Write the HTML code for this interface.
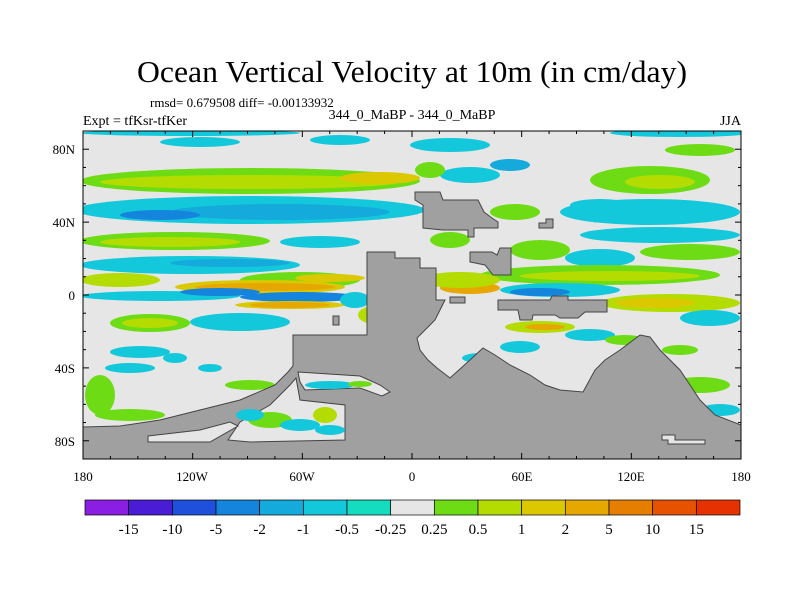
<!DOCTYPE html>
<html><head><meta charset="utf-8"><style>
body{margin:0;background:#fff;}
svg{display:block;font-family:"Liberation Serif",serif;}
</style></head><body>
<svg width="800" height="600" viewBox="0 0 800 600">
<defs><clipPath id="mapclip"><rect x="83" y="131" width="658" height="328"/></clipPath></defs>
<text x="412" y="82" text-anchor="middle" font-size="31" textLength="550" lengthAdjust="spacingAndGlyphs">Ocean Vertical Velocity at 10m (in cm/day)</text>
<text x="150" y="107" font-size="13">rmsd= 0.679508 diff= -0.00133932</text>
<text x="412" y="119" text-anchor="middle" font-size="14">344_0_MaBP - 344_0_MaBP</text>
<text x="83" y="125" font-size="14">Expt = tfKsr-tfKer</text>
<text x="741" y="125" text-anchor="end" font-size="14">JJA</text>

<g clip-path="url(#mapclip)">
<rect x="83" y="131" width="658" height="328" fill="#e6e6e6"/>
<g id="blobs"></g>
<g fill="#a0a0a0" stroke="#444" stroke-width="1">
<polygon points="83,459 83,427 120,426 160,420 200,410 240,400 275,385 288,372 293,366 293,335 367,335 367,252 395,252 395,258 420,258 420,268 436,268 436,300 445,300 440,310 435,320 425,330 417,338 420,350 428,360 437,368 450,378 470,360 483,348 495,355 510,365 530,375 545,385 560,390 583,392 595,370 605,360 620,350 640,335 650,337 660,350 680,370 690,385 700,400 715,415 741,425 741,459"/>
<polygon points="415,192 440,192 443,200 478,200 484,212 492,218 498,222 498,228 474,228 474,237 468,237 468,230 443,230 423,228 423,205 415,200"/>
<polygon points="539,223 546,223 546,219 553,219 553,228 539,228"/>
<polygon points="470,252 492,252 497,255 500,248 511,248 511,275 493,275 485,265 470,262"/>
<polygon points="498,300 550,300 552,296 568,296 568,300 607,300 607,312 585,312 578,318 560,318 555,315 533,315 532,320 520,320 518,310 498,310"/>
<polygon points="450,297 465,297 465,303 450,303"/>
<polygon points="333,316 339,316 339,325 333,325"/>
</g>
<g fill="#e6e6e6" stroke="#444" stroke-width="1">
<polygon points="298,372 360,376 380,385 390,392 382,396 360,388 305,390 300,382"/>
<polygon points="240,422 270,405 290,385 296,378 300,400 345,405 345,440 250,442 228,440"/>
<polygon points="148,436 200,430 230,422 238,426 210,442 148,442"/>
<polygon points="662,435 675,435 675,440 705,440 705,444 668,444 668,440 662,440"/>
</g>
<g id="seablobs"></g>
</g>
<rect x="83" y="131" width="658" height="328" fill="none" stroke="#000" stroke-width="1"/>
<g id="ticks" stroke="#000" stroke-width="1"></g>
<g font-size="13" text-anchor="end">
<text x="75" y="154">80N</text>
<text x="75" y="227">40N</text>
<text x="75" y="300">0</text>
<text x="75" y="373">40S</text>
<text x="75" y="446">80S</text>
</g>
<g font-size="13" text-anchor="middle">
<text x="83" y="481">180</text>
<text x="192" y="481">120W</text>
<text x="302" y="481">60W</text>
<text x="412" y="481">0</text>
<text x="522" y="481">60E</text>
<text x="631" y="481">120E</text>
<text x="741" y="481">180</text>
</g>
<g id="colorbar"></g>
</svg>
<script>
const levelLabels=['-15','-10','-5','-2','-1','-0.5','-0.25','0.25','0.5','1','2','5','10','15'];
const levelColors=['#8a1ee3','#4a1cd6','#1e50dc','#1484dc','#14aadc','#14c8dc','#14dcbe','#e6e6e6','#6edc14','#b4dc00','#dcc800','#e6a800','#e67e00','#e65200','#e63200'];
const NS='http://www.w3.org/2000/svg';
const C={cy:'#14c8dc',cb:'#14aadc',bl:'#1484dc',gr:'#6edc14',yg:'#b4dc00',ye:'#dcc800',or:'#e6a800',tq:'#14dcbe'};
// [cx,cy,rx,ry,color]
const blobs=[
[190,133,110,3,'cy'],[680,133,70,4,'cy'],[200,142,40,5,'cy'],[340,140,30,5,'cy'],
[250,181,170,13,'gr'],[250,182,150,7,'yg'],[380,178,40,6,'ye'],
[250,210,175,14,'cy'],[280,212,110,8,'cb'],[160,215,40,5,'bl'],
[175,241,95,9,'gr'],[170,242,70,5,'yg'],[320,242,40,6,'cy'],
[190,265,110,9,'cy'],[230,263,60,4,'cb'],[120,280,40,7,'yg'],[300,280,60,8,'gr'],[330,278,35,4,'ye'],
[160,296,80,5,'cy'],[260,287,85,7,'ye'],[265,287,70,4,'or'],[300,297,60,5,'bl'],[220,292,40,4,'bl'],
[290,305,55,4,'ye'],[290,305,40,3,'or'],[240,322,50,9,'cy'],[150,323,40,9,'gr'],[150,323,28,5,'yg'],
[140,352,30,6,'cy'],[130,368,25,5,'cy'],[175,358,12,5,'cy'],[210,368,12,4,'cy'],
[100,395,15,20,'gr'],[250,385,25,5,'gr'],[130,415,35,6,'gr'],
[450,145,40,7,'cy'],[470,175,30,8,'cy'],[510,165,20,6,'cb'],[430,170,15,8,'gr'],
[650,180,60,14,'gr'],[660,182,35,7,'yg'],[700,150,35,6,'gr'],
[650,212,90,13,'cy'],[515,212,25,8,'gr'],[600,205,30,6,'cy'],
[660,235,80,8,'cy'],[690,252,50,8,'gr'],[600,258,35,9,'cy'],[540,250,30,10,'gr'],
[600,275,120,10,'gr'],[610,276,90,5,'yg'],[470,288,30,6,'or'],[460,280,40,8,'yg'],
[560,290,60,7,'cy'],[540,292,30,4,'bl'],[670,303,70,9,'yg'],[655,303,40,5,'ye'],
[710,318,30,8,'cy'],[540,327,35,6,'yg'],[545,327,20,3,'or'],[590,335,25,6,'cy'],
[520,347,20,6,'cy'],[480,358,18,5,'cy'],[625,340,20,5,'gr'],[680,350,18,5,'gr'],
[700,385,30,8,'gr'],[720,410,20,6,'cy'],[450,240,20,8,'gr'],[380,315,22,10,'yg'],[355,300,15,8,'cy']
];
const seablobs=[
[330,385,25,4,'cy'],[360,384,12,3,'gr'],[270,420,22,8,'gr'],[300,425,20,6,'cy'],[325,415,12,8,'yg'],[250,415,14,6,'cy'],[330,430,15,5,'cy']
];
function drawBlobs(id,arr){
 const g=document.getElementById(id);
 arr.forEach(b=>{const e=document.createElementNS(NS,'ellipse');
 e.setAttribute('cx',b[0]);e.setAttribute('cy',b[1]);e.setAttribute('rx',b[2]);e.setAttribute('ry',b[3]);e.setAttribute('fill',C[b[4]]);
 
 
 g.appendChild(e);});
}
drawBlobs('blobs',blobs);drawBlobs('seablobs',seablobs);
const X0=83,X1=741,Y0=131,Y1=459;
const lonX=l=>X0+(l+180)/360*(X1-X0);
const latY=l=>Y0+(90-l)/180*(Y1-Y0);
const tg=document.getElementById('ticks');
function ln(x1,y1,x2,y2){const l=document.createElementNS(NS,'line');l.setAttribute('x1',x1);l.setAttribute('y1',y1);l.setAttribute('x2',x2);l.setAttribute('y2',y2);


tg.appendChild(l);}
for(let l=-180;l<=180;l+=15){const x=lonX(l),m=l%60===0?6:3;ln(x,Y1,x,Y1-m);ln(x,Y0,x,Y0+m);}
for(let l=-90;l<=90;l+=10){const y=latY(l),m=l%40===0?6:3;ln(X0,y,X0+m,y);ln(X1,y,X1-m,y);}
const cb=document.getElementById('colorbar');
const cbx=85,cbw=655,cby=500,cbh=15,bw=cbw/levelColors.length;
levelColors.forEach((c,i)=>{const r=document.createElementNS(NS,'rect');
r.setAttribute('x',cbx+i*bw);r.setAttribute('y',cby);r.setAttribute('width',bw);r.setAttribute('height',cbh);r.setAttribute('fill',c);r.setAttribute('stroke','#000');r.setAttribute('stroke-width','0.7');


cb.appendChild(r);});
levelLabels.forEach((t,i)=>{const tx=document.createElementNS(NS,'text');
tx.setAttribute('x',cbx+(i+1)*bw);tx.setAttribute('y',534);tx.setAttribute('text-anchor','middle');tx.setAttribute('font-size','15');tx.textContent=t;


cb.appendChild(tx);});
</script>
</body></html>
